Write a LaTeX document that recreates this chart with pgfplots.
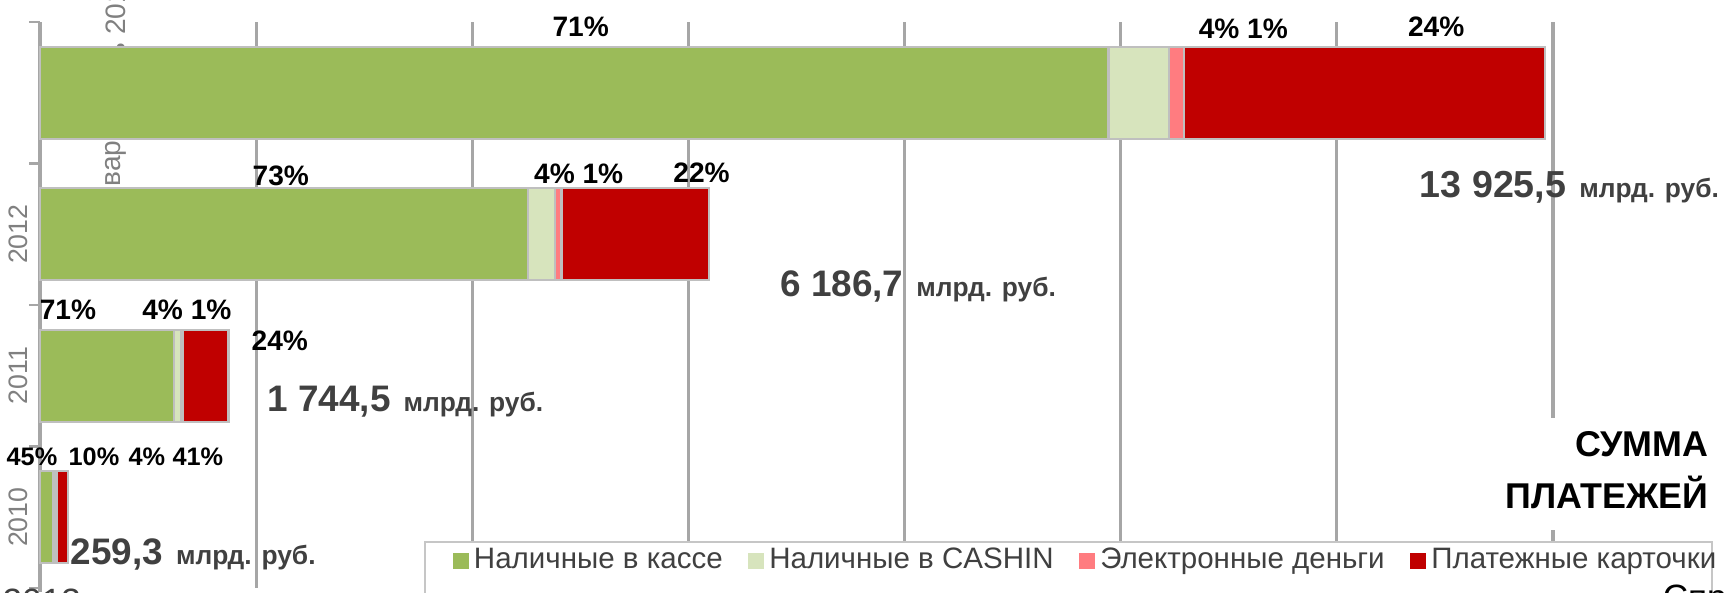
\documentclass[border=0pt]{standalone}
\usepackage{fontspec}
\setmainfont{Liberation Sans}
\usepackage{pgfplots}
\pgfplotsset{compat=1.18}
\definecolor{cashgreen}{HTML}{9BBB59}
\definecolor{cashin}{HTML}{D7E4BD}
\definecolor{emoney}{HTML}{FF7C80}
\definecolor{cards}{HTML}{C00000}
\definecolor{totgray}{HTML}{404040}
\definecolor{gridgray}{HTML}{A6A6A6}

\pgfplotsset{sq legend/.style={legend image code/.code={\fill[##1,draw=none] (0cm,-0.075cm) rectangle (0.16cm,0.085cm);}}}

\begin{document}
\begin{tikzpicture}
\useasboundingbox (0,0) rectangle (17.27,5.92);

% pieces of an older label, half hidden by the top bar
\begin{scope}[yshift=5.92cm, x=0.01cm, y=-0.01cm]
  \node[rotate=90, anchor=east, inner sep=0pt, text=gray, font=\fontsize{8}{9}\selectfont] at (116,140) {вар};
  \node[rotate=90, anchor=west, inner sep=0pt, text=gray, font=\fontsize{8}{9}\selectfont] at (116,58) {ь 2013};
\end{scope}

\begin{axis}[
  at={(0.40cm,0.04cm)}, anchor=south west,
  scale only axis, width=15.13cm, height=5.66cm,
  xmin=0, xmax=14000, ymin=-0.5, ymax=3.5,
  xbar stacked, bar width=0.92cm,
  axis line style={draw=none},
  clip=false,
  xtick={2000,4000,...,14000}, xticklabels={}, xtick style={draw=none},
  xmajorgrids, major grid style={gridgray, line width=0.9pt},
  ytick={-0.5,0.5,...,3.5}, yticklabels={}, ytick pos=left, tick align=outside,
  ytick style={gridgray, line width=0.8pt}, major tick length=0.11cm,
  extra y ticks={0,1,2}, extra y tick labels={2010,2011,2012},
  extra y tick style={major tick length=0pt,
    yticklabel style={rotate=90, anchor=south, text=gray, font=\fontsize{7.6}{9}\selectfont}},
  legend columns=4,
  legend cell align=left,
  legend style={at={(0.2723,0.0477)}, anchor=west, draw=none, fill=none,
    font=\fontsize{8.4}{10}\selectfont, text=totgray, inner sep=0pt,
    nodes={inner xsep=1.5pt, inner ysep=0pt},
    /tikz/every even column/.append style={column sep=0.2cm}},
]
\addplot[sq legend, fill=cashgreen, draw=gray!50, line width=0.6pt] coordinates {
  (116.7,0) (1238.6,1) (4516.3,2) (9887.1,3)};
\addlegendentry{Наличные в кассе}
\addplot[sq legend, fill=cashin, draw=gray!50, line width=0.6pt] coordinates {
  (25.9,0) (69.8,1) (247.5,2) (557.0,3)};
\addlegendentry{Наличные в CASHIN}
\addplot[sq legend, fill=emoney, draw=gray!50, line width=0.6pt] coordinates {
  (10.4,0) (17.4,1) (61.9,2) (139.3,3)};
\addlegendentry{Электронные деньги}
\addplot[sq legend, fill=cards, draw=gray!50, line width=0.6pt] coordinates {
  (106.3,0) (418.7,1) (1361.1,2) (3342.1,3)};
\addlegendentry{Платежные карточки}

% legend frame, runs off the bottom edge
\draw[gray!45, line width=0.6pt, fill=white] (axis cs:3562,-0.173) rectangle (axis cs:15471,-0.654);
% left axis line
\draw[gridgray, line width=0.9pt] (axis cs:0,-0.53) -- (axis cs:0,3.5);
\end{axis}

\begin{scope}[yshift=5.92cm, x=0.01cm, y=-0.01cm]
  % shares
  \begin{scope}[every node/.style={font=\fontsize{8}{9}\selectfont\bfseries, inner sep=0pt}]
    \node at (581,27) {71\%};
    \node at (1244,29) {4\% 1\%};
    \node at (1437,27) {24\%};
    \node at (281,176) {73\%};
    \node at (579,174) {4\% 1\%};
    \node at (702,173) {22\%};
    \node at (68,310) {71\%};
    \node at (187,310) {4\% 1\%};
    \node at (280,341) {24\%};
  \end{scope}
  \begin{scope}[every node/.style={font=\fontsize{7.2}{8}\selectfont\bfseries, inner sep=0pt}]
    \node at (32,457) {45\%};
    \node at (94,457) {10\%};
    \node at (147,457) {4\%};
    \node at (198,457) {41\%};
  \end{scope}
  % totals
  \begin{scope}[every node/.style={font=\fontsize{7.5}{9}\selectfont\bfseries, text=totgray, inner sep=0pt, anchor=base west}]
    \node at (1420,198) {{\fontsize{10.7}{12}\selectfont 13 925,5}\hspace{0.13cm}млрд. руб.};
    \node at (780,297) {{\fontsize{10.5}{12}\selectfont 6 186,7}\hspace{0.13cm}млрд. руб.};
    \node at (267,412) {{\fontsize{10.5}{12}\selectfont 1 744,5}\hspace{0.13cm}млрд. руб.};
    \node at (70,565) {{\fontsize{10.5}{12}\selectfont 259,3}\hspace{0.13cm}млрд. руб.};
  \end{scope}
  % title block
  \fill[white] (1488,418) rectangle (1716,530);
  \node[anchor=base east, inner sep=0pt, font=\fontsize{10.2}{12}\selectfont\bfseries] at (1710,457) {СУММА};
  \node[anchor=base east, inner sep=0pt, font=\fontsize{10.2}{12}\selectfont\bfseries] at (1710,509) {ПЛАТЕЖЕЙ};
  % cut-off text at the bottom edge
  \node[anchor=north west, inner sep=0pt, text=totgray, font=\fontsize{10}{12}\selectfont] at (2,589) {2013};
  \node[anchor=north west, inner sep=0pt, font=\fontsize{10}{12}\selectfont] at (1663,585) {Спр};
\end{scope}
\end{tikzpicture}
\end{document}
